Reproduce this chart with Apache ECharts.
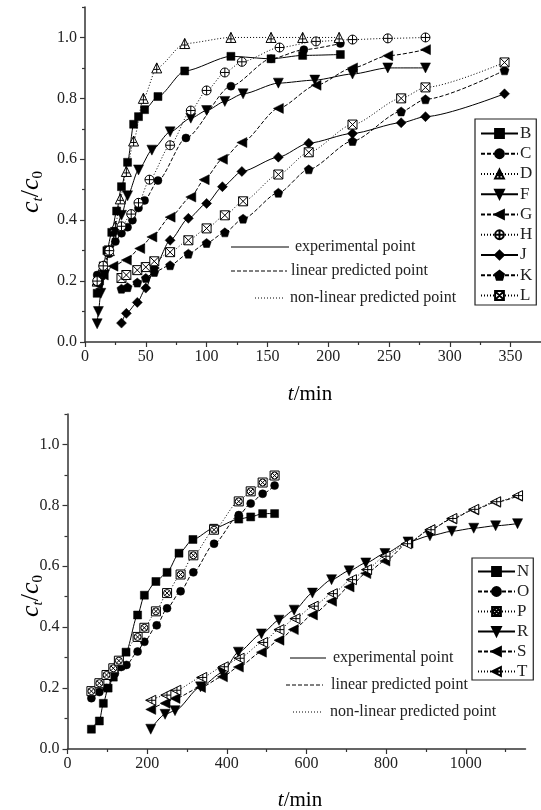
<!DOCTYPE html>
<html><head><meta charset="utf-8">
<script src="https://cdn.jsdelivr.net/npm/echarts@6/dist/echarts.min.js"></script>
<style>html,body{margin:0;padding:0;background:#fff}#c{width:541px;height:810px}</style>
</head><body><div id="c"></div>
<script>
// ---------- data: top panel (t/min, ct/c0) ----------
const tB = [10, 12, 15, 18, 22, 26, 30, 35, 40, 44, 49, 60, 82, 120, 153, 179, 210];
const vB = [0.16, 0.2, 0.25, 0.3, 0.36, 0.43, 0.51, 0.59, 0.715, 0.74, 0.763, 0.806, 0.89, 0.938, 0.93, 0.941, 0.944];
const tC = [10, 15, 20, 25, 30, 35, 39, 44, 49, 60, 83, 120, 153, 180, 210];
const vC = [0.22, 0.25, 0.29, 0.33, 0.357, 0.377, 0.40, 0.44, 0.465, 0.53, 0.67, 0.84, 0.93, 0.96, 0.98];
const tD = [10, 15, 20, 25, 29, 34, 40, 48, 59, 82, 120, 153, 179, 209];
const vD = [0.2, 0.25, 0.3, 0.38, 0.47, 0.56, 0.66, 0.8, 0.9, 0.98, 1.0, 1.0, 1.0, 1.0];
const tF = [10, 11, 13, 16, 20, 25, 30, 35, 44, 55, 70, 87, 100, 115, 130, 159, 189, 220, 249, 280];
const vF = [0.06, 0.1, 0.16, 0.22, 0.3, 0.36, 0.416, 0.48, 0.565, 0.63, 0.69, 0.735, 0.76, 0.79, 0.815, 0.85, 0.86, 0.88, 0.9, 0.9];
const tG = [10, 15, 23, 34, 45, 55, 70, 87, 98, 113, 129, 159, 190, 220, 249, 280];
const vG = [0.19, 0.22, 0.249, 0.269, 0.307, 0.345, 0.41, 0.476, 0.533, 0.6, 0.655, 0.767, 0.843, 0.9, 0.94, 0.96];
const tH = [10, 15, 20, 30, 38, 44, 53, 70, 87, 100, 115, 129, 160, 190, 220, 249, 280];
const vH = [0.2, 0.25, 0.3, 0.38, 0.42, 0.457, 0.533, 0.646, 0.76, 0.826, 0.885, 0.92, 0.967, 0.987, 0.993, 0.997, 1.0];
const tJ = [30, 34, 43, 50, 57, 70, 85, 100, 113, 129, 159, 184, 220, 260, 280, 345];
const vJ = [0.062, 0.094, 0.13, 0.177, 0.243, 0.334, 0.406, 0.455, 0.51, 0.56, 0.607, 0.653, 0.685, 0.72, 0.74, 0.815];
const tK = [30, 35, 43, 50, 57, 70, 85, 100, 115, 130, 159, 184, 220, 260, 280, 345];
const vK = [0.175, 0.18, 0.195, 0.21, 0.23, 0.252, 0.29, 0.325, 0.36, 0.405, 0.49, 0.567, 0.66, 0.757, 0.797, 0.892];
const tL = [30, 34, 43, 50, 57, 70, 85, 100, 115, 130, 159, 184, 220, 260, 280, 345];
const vL = [0.21, 0.22, 0.236, 0.246, 0.265, 0.295, 0.334, 0.373, 0.416, 0.462, 0.55, 0.623, 0.714, 0.8, 0.836, 0.918];

// ---------- data: bottom panel ----------
const tN = [60, 80, 90, 102, 115, 127, 147, 176, 193, 222, 250, 280, 315, 367, 430, 460, 490, 520];
const vN = [0.065, 0.092, 0.15, 0.2, 0.236, 0.27, 0.318, 0.44, 0.505, 0.55, 0.58, 0.643, 0.688, 0.725, 0.755, 0.762, 0.773, 0.773];
const tO = [60, 80, 98, 119, 136, 148, 176, 193, 224, 250, 284, 316, 368, 430, 460, 490, 520];
const vO = [0.167, 0.187, 0.2, 0.248, 0.27, 0.276, 0.32, 0.352, 0.406, 0.462, 0.518, 0.58, 0.674, 0.768, 0.806, 0.838, 0.865];
const tP = [60, 80, 98, 115, 129, 176, 193, 222, 250, 284, 316, 368, 430, 460, 490, 520];
const vP = [0.19, 0.216, 0.243, 0.265, 0.29, 0.368, 0.398, 0.452, 0.512, 0.573, 0.636, 0.72, 0.813, 0.846, 0.875, 0.898];
const tR = [209, 245, 270, 334, 389, 429, 487, 531, 569, 615, 663, 707, 749, 797, 855, 910, 965, 1020, 1075, 1130];
const vR = [0.065, 0.114, 0.126, 0.204, 0.251, 0.318, 0.378, 0.423, 0.456, 0.512, 0.556, 0.585, 0.611, 0.642, 0.68, 0.7, 0.715, 0.725, 0.733, 0.74];
const tS = [209, 245, 270, 334, 389, 429, 487, 531, 567, 615, 663, 707, 749, 797, 855, 910, 965, 1020, 1075, 1130];
const vS = [0.13, 0.15, 0.166, 0.202, 0.237, 0.269, 0.318, 0.357, 0.392, 0.44, 0.485, 0.532, 0.576, 0.617, 0.676, 0.72, 0.755, 0.785, 0.81, 0.83];
const tT = [209, 247, 272, 337, 391, 431, 490, 531, 571, 617, 665, 713, 751, 797, 851, 910, 965, 1020, 1075, 1130];
const vT = [0.16, 0.177, 0.193, 0.235, 0.27, 0.298, 0.35, 0.392, 0.428, 0.469, 0.51, 0.556, 0.589, 0.633, 0.674, 0.72, 0.757, 0.787, 0.812, 0.832];

const xTicksTop = [0, 50, 100, 150, 200, 250, 300, 350];
const xMinorTop = [25, 75, 125, 175, 225, 275, 325];
const xTicksBot = [0, 200, 400, 600, 800, 1000];
const xMinorBot = [100, 300, 500, 700, 900, 1100];
const yTicks = [0, 0.2, 0.4, 0.6, 0.8, 1.0];
const yMinor = [0.1, 0.3, 0.5, 0.7, 0.9, 1.1];

const FONT = '"Liberation Serif", "Times New Roman", serif';
const SYM = {
  square: 'rect', circle: 'circle', diamond: 'diamond',
  triPlus: 'path://M10,1L19,18L1,18Z M10,1L10,18 M5,12L15,12',
  triDown: 'path://M1,2L19,2L10,19Z',
  triLeft: 'path://M1,10L19,1L19,19Z',
  circlePlus: 'path://M10,1A9,9,0,1,1,9.99,1Z M10,1L10,19 M1,10L19,10',
  pentagon: 'path://M10,1L19,7.5L15.6,18L4.4,18L1,7.5Z',
  boxX: 'path://M2,2L18,2L18,18L2,18Z M2,2L18,18 M18,2L2,18',
  boxCircleX: 'path://M1,1L19,1L19,19L1,19Z M10,3A7,7,0,1,1,9.99,3Z M5,5L15,15 M15,5L5,15',
  triLeftPlus: 'path://M1,10L19,1L19,19Z M1,10L19,10 M12,4L12,16'
};
const LT = { solid: 'solid', dash: [4, 2], dot: [1, 2] };

function pairs(ts, vs) { return ts.map((t, i) => [t, vs[i]]); }
function mk(name, ts, vs, sym, size, filled, lt, g) {
  return {
    name, type: 'line', xAxisIndex: g * 2, yAxisIndex: g * 2,
    data: pairs(ts, vs), symbol: SYM[sym], symbolSize: size,
    smooth: 0.25, smoothMonotone: 'x',
    lineStyle: { color: '#000', width: 1, type: LT[lt] },
    itemStyle: filled ? { color: '#000', borderColor: '#000', borderWidth: 0.5 } : { color: '#fff', borderColor: '#000', borderWidth: 1 },
    emphasis: { disabled: true }, z: 3
  };
}

const series = [
  mk('B', tB, vB, 'square', 8, true, 'solid', 0),
  mk('C', tC, vC, 'circle', 8, true, 'dash', 0),
  mk('D', tD, vD, 'triPlus', 10, false, 'dot', 0),
  mk('F', tF, vF, 'triDown', 10, true, 'solid', 0),
  mk('G', tG, vG, 'triLeft', 10, true, 'dash', 0),
  mk('H', tH, vH, 'circlePlus', 9, false, 'dot', 0),
  mk('J', tJ, vJ, 'diamond', 10, true, 'solid', 0),
  mk('K', tK, vK, 'pentagon', 9, true, 'dash', 0),
  mk('L', tL, vL, 'boxX', 9, false, 'dot', 0),
  mk('N', tN, vN, 'square', 8, true, 'solid', 1),
  mk('O', tO, vO, 'circle', 8, true, 'dash', 1),
  mk('P', tP, vP, 'boxCircleX', 9, false, 'dot', 1),
  mk('R', tR, vR, 'triDown', 10, true, 'solid', 1),
  mk('S', tS, vS, 'triLeft', 10, true, 'dash', 1),
  mk('T', tT, vT, 'triLeftPlus', 10, false, 'dot', 1)
];

const axCol = '#333';
function xMajor(g, max, ticks) {
  return { type: 'value', gridIndex: g, min: 0, max, position: 'bottom',
    axisLine: { show: true, onZero: false, lineStyle: { color: axCol, width: 1.5 } },
    axisTick: { show: true, inside: false, length: 5, customValues: ticks, lineStyle: { color: axCol, width: 1.2 } },
    axisLabel: { show: true, customValues: ticks, margin: 7, fontFamily: FONT, fontSize: 16, color: '#222', formatter: v => String(v) },
    splitLine: { show: false } };
}
function xMinor(g, max, ticks) {
  return { type: 'value', gridIndex: g, min: 0, max, position: 'bottom', offset: 0,
    axisLine: { show: false }, axisTick: { show: true, length: 3, customValues: ticks, lineStyle: { color: axCol, width: 1.2 } },
    axisLabel: { show: false }, splitLine: { show: false } };
}
function yMajor(g) {
  return { type: 'value', gridIndex: g, min: 0, max: 1.1, position: 'left',
    axisLine: { show: true, onZero: false, lineStyle: { color: axCol, width: 1.5 } },
    axisTick: { show: true, length: 5, customValues: yTicks, lineStyle: { color: axCol, width: 1.2 } },
    axisLabel: { show: true, customValues: yTicks, margin: 8, fontFamily: FONT, fontSize: 16, color: '#222', formatter: v => v.toFixed(1) },
    splitLine: { show: false } };
}
function yMinorAx(g) {
  return { type: 'value', gridIndex: g, min: 0, max: 1.1, position: 'left', offset: 0,
    axisLine: { show: false }, axisTick: { show: true, length: 3, customValues: yMinor, lineStyle: { color: axCol, width: 1.2 } },
    axisLabel: { show: false }, splitLine: { show: false } };
}

function legendBox(names, left, top, gap, pad) {
  return { orient: 'vertical', left, top, data: names, itemWidth: 37, itemHeight: 11, itemGap: gap,
    padding: pad, borderColor: '#222', borderWidth: 1.2, borderRadius: 0, backgroundColor: '#fff',
    textStyle: { fontFamily: FONT, fontSize: 17, color: '#222', padding: [0, 0, 0, -3] },
    selectedMode: false, inactiveColor: '#000' };
}

const rich = {
  i: { fontFamily: FONT, fontSize: 26, fontStyle: 'italic', color: '#222', lineHeight: 30 },
  n: { fontFamily: FONT, fontSize: 26, color: '#222', lineHeight: 30 },
  si: { fontFamily: FONT, fontSize: 15, fontStyle: 'italic', color: '#222', lineHeight: 13, verticalAlign: 'bottom' },
  sn: { fontFamily: FONT, fontSize: 15, color: '#222', lineHeight: 13, verticalAlign: 'bottom' }
};
const xr = {
  i: { fontFamily: FONT, fontSize: 21, fontStyle: 'italic', color: '#222' },
  n: { fontFamily: FONT, fontSize: 21, color: '#222' }
};
function ylab(x, y) {
  return { type: 'text', x, y, rotation: Math.PI / 2,
    style: { text: '{i|c}{si|t}{n|/}{i|c}{sn|0}', rich, align: 'center', verticalAlign: 'middle' } };
}
function xlab(x, y) {
  return { type: 'text', x, y, style: { text: '{i|t}{n|/min}', rich: xr, align: 'center', verticalAlign: 'middle' } };
}
function styleKey(x1, x2, y, dash, label, tx) {
  return [
    { type: 'line', shape: { x1, y1: y, x2, y2: y }, style: { stroke: '#000', lineWidth: 1, lineDash: dash } },
    { type: 'text', x: tx, y, style: { text: label, fontFamily: FONT, fontSize: 16, fill: '#222', verticalAlign: 'middle', align: 'left' } }
  ];
}

const graphic = [
  ylab(31, 192), xlab(310, 394), ylab(31, 596), xlab(300, 800),
  ...styleKey(231, 289, 247, null, 'experimental point', 295),
  ...styleKey(231, 287, 271, [4, 2], 'linear predicted point', 291),
  ...styleKey(255, 283, 298, [1, 2], 'non-linear predicted point', 290),
  ...styleKey(290, 326, 658, null, 'experimental point', 333),
  ...styleKey(286, 323, 685, [4, 2], 'linear predicted point', 331),
  ...styleKey(293, 323, 712, [1, 2], 'non-linear predicted point', 330)
];

const chart = echarts.init(document.getElementById('c'), null, { renderer: 'canvas' });
chart.setOption({
  animation: false,
  backgroundColor: '#fff',
  grid: [
    { left: 85, top: 7, width: 456, height: 335 },
    { left: 67.5, top: 414, width: 458, height: 335 }
  ],
  xAxis: [xMajor(0, 375, xTicksTop), xMinor(0, 375, xMinorTop), xMajor(1, 1150, xTicksBot), xMinor(1, 1150, xMinorBot)],
  yAxis: [yMajor(0), yMinorAx(0), yMajor(1), yMinorAx(1)],
  legend: [
    legendBox(['B', 'C', 'D', 'F', 'G', 'H', 'J', 'K', 'L'], 475, 119, 3.25, [6, 4, 1, 5]),
    legendBox(['N', 'O', 'P', 'R', 'S', 'T'], 472, 558, 3, [5, 4, 0, 5])
  ],
  graphic,
  series
});
</script></body></html>
